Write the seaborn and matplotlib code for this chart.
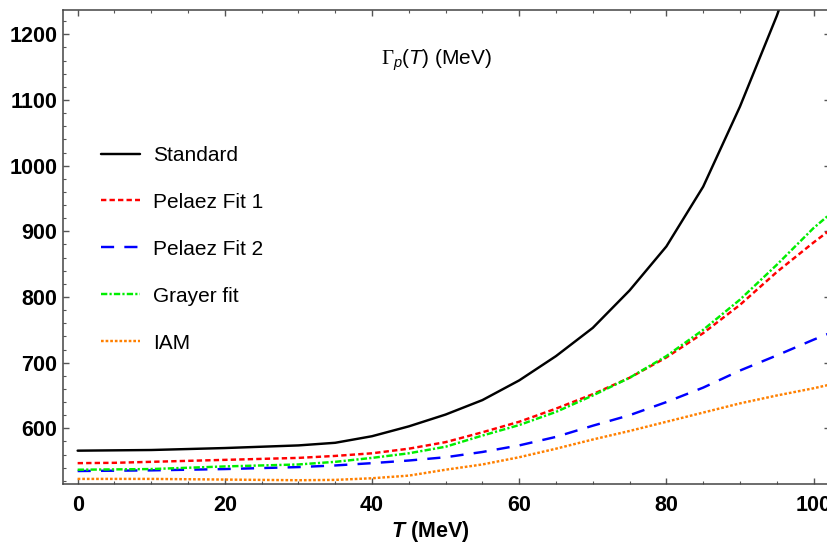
import numpy as np
import matplotlib
matplotlib.use('Agg')
import matplotlib.pyplot as plt
import seaborn as sns


#----------------------------------------------------
# values, Gamma_p(T) in MeV
T = [0, 5, 10, 15, 20, 25, 30, 35, 40, 45, 50, 55, 60, 65, 70, 75, 80, 85, 90, 95, 100, 102]
standard = [566, 566.5, 567, 568.5, 570, 572, 574, 578, 588, 603, 621, 643, 673, 710, 753, 810,
            877, 968, 1090, 1228, 1385, 1450]
pelaez1 = [547, 547.5, 549, 550.5, 552, 553.5, 555, 558, 562, 569, 579, 594, 610, 630, 652, 677,
           708, 745, 788, 838, 883, 900]
pelaez2 = [535, 535.5, 536, 537, 538, 539.5, 541, 543.5, 547, 551, 556, 564, 574, 587, 604, 620,
           640, 662, 688, 711, 735, 744]
grayer = [537, 537.5, 538, 540, 542, 543.5, 545, 549, 555, 562, 572, 589, 605, 625, 650, 677,
          710, 750, 796, 849, 905, 924]
iam = [523, 523, 523, 522.5, 522, 521.5, 521, 521.5, 524, 528, 537, 545, 556, 569, 583, 596,
       610, 624, 638, 650, 661, 666]

labels = ['Standard', 'Pelaez Fit 1', 'Pelaez Fit 2', 'Grayer fit', 'IAM']


#----------------------------------------------------
def main():
    sns.set_style('ticks')
    plt.rcParams['font.family'] = ['Liberation Sans', 'DejaVu Sans']
    plt.rcParams['text.color'] = 'black'
    plt.rcParams['xtick.labelcolor'] = 'black'
    plt.rcParams['ytick.labelcolor'] = 'black'
    plt.rcParams['axes.labelcolor'] = 'black'
    plt.rcParams['mathtext.fontset'] = 'custom'
    plt.rcParams['mathtext.rm'] = 'Liberation Serif'
    plt.rcParams['mathtext.it'] = 'Liberation Sans:italic'
    plt.rcParams['mathtext.bf'] = 'Liberation Sans:bold:italic'

    fig = plt.figure(figsize=(8.28, 5.44), dpi=100)
    ax = fig.add_axes([0.076, 0.110, 0.927, 0.8716])

    series = [standard, pelaez1, pelaez2, grayer, iam]
    colors = ['black', '#ff0000', '#0000ff', '#00ee00', '#ff8000']
    styles = ['-', (0, (2.2, 1.3)), (0, (5.4, 4.2)), (0, (2.6, 0.9, 0.9, 0.9)), (0, (1.1, 0.8))]
    for y, c, ls, lab in zip(series, colors, styles, labels):
        sns.lineplot(x=T, y=y, ax=ax, color=c, linestyle=ls, linewidth=1.75, label=lab)

    ax.set_xlim(-2, 102.3)
    ax.set_ylim(515, 1237)
    ax.set_xticks(np.arange(0, 101, 20))
    ax.set_xticks(np.arange(0, 101, 5), minor=True)
    ax.set_yticks(np.arange(600, 1201, 100))
    ax.set_yticks(np.arange(520, 1237, 20), minor=True)
    ax.tick_params(which='both', direction='in', top=True, right=True, color='#555555',
                   labelcolor='black')
    ax.tick_params(which='major', length=4, width=1)
    ax.tick_params(which='minor', length=2, width=0.8)
    ax.tick_params(axis='x', pad=8)
    ax.tick_params(axis='y', pad=4)
    for lab in ax.get_xticklabels() + ax.get_yticklabels():
        lab.set_fontweight('bold')
        lab.set_fontsize(15.5)
    for s in ax.spines.values():
        s.set_color('#444444')
        s.set_linewidth(1.1)

    ax.set_xlabel(r'$\mathbf{T}$ (MeV)', fontsize=15.5, fontweight='bold', color='black')
    ax.xaxis.set_label_coords(0.478, -0.073)
    ax.set_ylabel('')
    ax.text(0.486, 0.893, r'$\Gamma_p$($T$) (MeV)', transform=ax.transAxes,
            ha='center', va='center', fontsize=15, color='black')

    leg = ax.legend(loc='upper left', bbox_to_anchor=(0.025, 0.753), frameon=False,
                    fontsize=15, handlelength=1.9, handletextpad=0.6, labelspacing=1.34)
    for txt in leg.get_texts():
        txt.set_color('black')

    fig.savefig('out.png', dpi=100)


#----------------------------------------------------
if __name__ == '__main__':
    main()
